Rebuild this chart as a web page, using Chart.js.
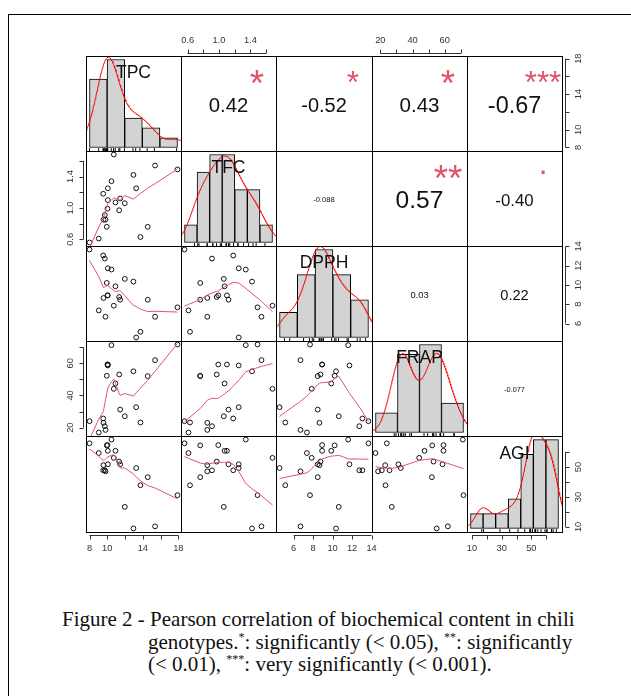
<!DOCTYPE html>
<html>
<head>
<meta charset="utf-8">
<script src="https://cdn.jsdelivr.net/npm/chart.js@4.4.1/dist/chart.umd.min.js"></script>
<style>
  html, body { margin: 0; padding: 0; background: #fff; }
  body { width: 631px; height: 696px; position: relative; overflow: hidden; }
  #frame { position: absolute; left: 8px; top: 14px; width: 700px; height: 700px; border-left: 1px solid #000; border-top: 1px solid #000; }
  #matrix canvas { position: absolute; }
  .cap { position: absolute; font-family: "Liberation Serif", "Times New Roman", serif; font-size: 21px; line-height: 22px; color: #111; white-space: nowrap; }
  .cap sup { font-size: 12px; line-height: 0; vertical-align: 8px; }
</style>
</head>
<body>
<div id="frame"></div>
<div id="matrix"></div>
<div class="cap" style="left:62px; top:608px">Figure 2 - Pearson correlation of biochemical content in chili</div>
<div class="cap" style="left:148px; top:631px">genotypes.<sup>*</sup>: significantly (&lt; 0.05), <sup>**</sup>: significantly</div>
<div class="cap" style="left:148px; top:653px">(&lt; 0.01), <sup>***</sup>: very significantly (&lt; 0.001).</div>
<script>
// 22 genotypes, values
const varNames = ['TPC', 'TFC', 'DPPH', 'FRAP', 'AGI'];
const tpc  = [8.00, 9.04, 9.54, 9.57, 9.72, 9.80, 9.94, 10.02, 10.06, 10.06, 10.47, 10.73, 10.92, 11.34, 11.45, 11.97, 12.94, 13.25, 13.73, 14.55, 15.38, 17.90];
const tfc  = [0.56, 0.61, 1.18, 0.85, 0.91, 0.85, 0.76, 0.99, 1.25, 1.10, 1.34, 1.68, 1.07, 0.97, 1.12, 1.06, 1.42, 1.25, 0.63, 0.76, 1.54, 1.49];
const dpph = [13.68, 7.36, 13.06, 8.65, 12.74, 6.70, 10.21, 8.92, 11.73, 8.92, 11.60, 7.85, 9.86, 8.75, 8.47, 10.63, 10.35, 4.55, 5.14, 8.47, 6.70, 7.68];
const frap = [24.0, 17.0, 25.7, 23.0, 20.9, 18.6, 52.2, 59.2, 58.6, 59.2, 71.2, 44.1, 47.4, 53.0, 31.2, 27.1, 55.0, 32.7, 23.2, 52.0, 61.9, 71.6];
const agi  = [65.8, 59.3, 47.8, 51.2, 47.8, 47.1, 64.4, 64.6, 51.8, 60.8, 68.3, 56.1, 60.8, 53.6, 51.8, 23.4, 9.0, 49.3, 37.8, 43.2, 10.4, 31.2];

// histogram breaks (diagonal panels)
const tpcBreaks  = [8, 10, 12, 14, 16, 18];
const tfcBreaks  = [0.4, 0.6, 0.8, 1.0, 1.2, 1.4, 1.6, 1.8];
const dpphBreaks = [4, 6, 8, 10, 12, 14];
const frapBreaks = [0, 20, 40, 60, 80];
const agiBreaks  = [0, 10, 20, 30, 40, 50, 60, 70];

// outer axis ticks and their labels ('' = tick without label)
const tpcTicks  = [8, 10, 12, 14, 16, 18];       const tpcTickLabels  = ['8', '10', '', '14', '', '18'];
const tfcTicks  = [0.6, 0.8, 1.0, 1.2, 1.4, 1.6]; const tfcTickLabels  = ['0.6', '', '1.0', '', '1.4', ''];
const dpphTicks = [6, 8, 10, 12, 14];            const dpphTickLabels = ['6', '8', '10', '12', '14'];
const frapTicks = [20, 30, 40, 50, 60, 70];      const frapTickLabels = ['20', '', '40', '', '60', ''];
const agiTicks  = [10, 20, 30, 40, 50, 60];      const agiTickLabels  = ['10', '', '30', '', '50', ''];

// upper panels, row by row: (1,2) (1,3) (1,4) (1,5) (2,3) (2,4) (2,5) (3,4) (3,5) (4,5)
const corrText  = ['0.42', '-0.52', '0.43', '-0.67', '-0.088', '0.57', '-0.40', '0.03', '0.22', '-0.077'];
const corrStars = ['*', '*', '*', '***', '', '**', '.', '', '', ''];

const vars = [tpc, tfc, dpph, frap, agi];
const breaks = [tpcBreaks, tfcBreaks, dpphBreaks, frapBreaks, agiBreaks];
const ticks = [tpcTicks, tfcTicks, dpphTicks, frapTicks, agiTicks];
const tickLabels = [tpcTickLabels, tfcTickLabels, dpphTickLabels, frapTickLabels, agiTickLabels];

const PAD = 40;
const colX = [86, 181, 276, 372, 467, 562];
const rowY = [56, 151, 246, 341, 436, 532];
const SANS = '"Liberation Sans", Arial, sans-serif';
const AXIS_COLOR = '#333';
const AXIS_GAP = 3, TICK_LEN = 4, LABEL_OFF = 16;

function extRange(lo, hi) {
  const d = (hi - lo) * 0.04;
  return [lo - d, hi + d];
}

function histCounts(v, b) {
  const c = new Array(b.length - 1).fill(0);
  v.forEach(x => {
    for (let k = 0; k < b.length - 1; k++) {
      if ((x > b[k] + 1e-9 || (k === 0 && x >= b[0] - 1e-9)) && x <= b[k + 1] + 1e-9) { c[k]++; break; }
    }
  });
  return c;
}

// gaussian kernel density, bw.nrd0 like R's density()
function kde(v) {
  const n = v.length, s = [...v].sort((a, b) => a - b);
  const mean = s.reduce((p, c) => p + c, 0) / n;
  const sd = Math.sqrt(s.reduce((p, c) => p + (c - mean) ** 2, 0) / (n - 1));
  const q = p => { const h = (n - 1) * p, lo = Math.floor(h); return s[lo] + (h - lo) * ((s[lo + 1] ?? s[lo]) - s[lo]); };
  const bw = 0.9 * Math.min(sd, (q(0.75) - q(0.25)) / 1.34) * Math.pow(n, -0.2);
  const from = s[0] - 3 * bw, to = s[n - 1] + 3 * bw, m = 240;
  const pts = [];
  for (let k = 0; k <= m; k++) {
    const x = from + (to - from) * k / m;
    let d = 0;
    s.forEach(xi => { const z = (x - xi) / bw; d += Math.exp(-0.5 * z * z); });
    pts.push({ x, y: d / (n * bw * Math.sqrt(2 * Math.PI)) });
  }
  return pts;
}

// port of R's clowess (lowess, f = 2/3, iter = 3)
function lowess(xIn, yIn, f, nsteps) {
  const ord = xIn.map((_, i) => i).sort((a, b) => xIn[a] - xIn[b]);
  const n = ord.length;
  const x = [0], y = [0];
  ord.forEach(i => { x.push(xIn[i]); y.push(yIn[i]); });
  const ys = new Array(n + 1).fill(0), rw = new Array(n + 1).fill(1);
  const w = new Array(n + 1).fill(0), res = new Array(n + 1).fill(0);
  const range = x[n] - x[1];
  const delta = 0.01 * range;
  const ns = Math.max(2, Math.min(n, Math.floor(f * n + 1e-7)));

  function lowest(xs, nleft, nright, userw) {
    const h = Math.max(xs - x[nleft], x[nright] - xs);
    const h9 = 0.999 * h, h1 = 0.001 * h;
    let a = 0, j = nleft;
    while (j <= n) {
      w[j] = 0;
      const r = Math.abs(x[j] - xs);
      if (r <= h9) {
        w[j] = r <= h1 ? 1 : Math.pow(1 - Math.pow(r / h, 3), 3);
        if (userw) w[j] *= rw[j];
        a += w[j];
      } else if (x[j] > xs) break;
      j++;
    }
    const nrt = j - 1;
    if (a <= 0) return null;
    for (j = nleft; j <= nrt; j++) w[j] /= a;
    if (h > 0) {
      a = 0;
      for (j = nleft; j <= nrt; j++) a += w[j] * x[j];
      let b = xs - a, c = 0;
      for (j = nleft; j <= nrt; j++) c += w[j] * (x[j] - a) * (x[j] - a);
      if (Math.sqrt(c) > 0.001 * range) {
        b /= c;
        for (j = nleft; j <= nrt; j++) w[j] *= (b * (x[j] - a) + 1);
      }
    }
    let out = 0;
    for (j = nleft; j <= nrt; j++) out += w[j] * y[j];
    return out;
  }

  for (let iter = 1; iter <= nsteps + 1; iter++) {
    let nleft = 1, nright = ns, last = 0, i = 1;
    for (;;) {
      if (nright < n) {
        const d1 = x[i] - x[nleft], d2 = x[nright + 1] - x[i];
        if (d1 > d2) { nleft++; nright++; continue; }
      }
      const v = lowest(x[i], nleft, nright, iter > 1);
      ys[i] = v === null ? y[i] : v;
      if (last < i - 1) {
        const denom = x[i] - x[last];
        for (let j = last + 1; j < i; j++) {
          const alpha = (x[j] - x[last]) / denom;
          ys[j] = alpha * ys[i] + (1 - alpha) * ys[last];
        }
      }
      last = i;
      const cut = x[last] + delta;
      for (i = last + 1; i <= n; i++) {
        if (x[i] > cut) break;
        if (x[i] === x[last]) { ys[i] = ys[last]; last = i; }
      }
      i = Math.max(last + 1, i - 1);
      if (last >= n) break;
    }
    for (let k = 1; k <= n; k++) res[k] = y[k] - ys[k];
    if (iter > nsteps) break;
    let sc = 0;
    for (let k = 1; k <= n; k++) sc += Math.abs(res[k]);
    sc /= n;
    const ar = res.slice(1).map(Math.abs).sort((a, b) => a - b);
    const m1 = Math.floor(n / 2);
    const cmad = n % 2 === 0 ? 3 * (ar[m1] + ar[n - m1 - 1]) : 6 * ar[m1];
    if (cmad < 1e-7 * sc) break;
    const c9 = 0.999 * cmad, c1 = 0.001 * cmad;
    for (let k = 1; k <= n; k++) {
      const r = Math.abs(res[k]);
      rw[k] = r <= c1 ? 1 : r <= c9 ? Math.pow(1 - Math.pow(r / cmad, 2), 2) : 0;
    }
  }
  return x.slice(1).map((xv, k) => ({ x: xv, y: ys[k + 1] }));
}

function fillCentered(ctx, txt, cx, cy) {
  const m = ctx.measureText(txt);
  ctx.textAlign = 'center';
  ctx.textBaseline = 'alphabetic';
  ctx.fillText(txt, cx, cy + (m.actualBoundingBoxAscent - m.actualBoundingBoxDescent) / 2);
}

function drawAxis(chart, ax) {
  const ctx = chart.ctx, a = chart.chartArea, sc = chart.scales[ax.scaleId];
  const pos = ticks[ax.v].map(t => sc.getPixelForValue(t));
  const labels = tickLabels[ax.v];
  ctx.strokeStyle = AXIS_COLOR;
  ctx.fillStyle = AXIS_COLOR;
  ctx.lineWidth = 1;
  ctx.font = '9.3px ' + SANS;
  ctx.textAlign = 'center';
  ctx.textBaseline = 'middle';
  ctx.beginPath();
  if (ax.side === 'bottom' || ax.side === 'top') {
    const s = ax.side === 'bottom' ? 1 : -1;
    const edge = ax.side === 'bottom' ? a.bottom : a.top;
    const yl = Math.round(edge + s * AXIS_GAP) + 0.5;
    ctx.moveTo(pos[0], yl);
    ctx.lineTo(pos[pos.length - 1], yl);
    pos.forEach(p => { const xp = Math.round(p) + 0.5; ctx.moveTo(xp, yl); ctx.lineTo(xp, yl + s * TICK_LEN); });
    ctx.stroke();
    labels.forEach((t, k) => { if (t) ctx.fillText(t, pos[k], edge + s * LABEL_OFF); });
  } else {
    const s = ax.side === 'right' ? 1 : -1;
    const edge = ax.side === 'right' ? a.right : a.left;
    const xl = Math.round(edge + s * AXIS_GAP) + 0.5;
    ctx.moveTo(xl, pos[0]);
    ctx.lineTo(xl, pos[pos.length - 1]);
    pos.forEach(p => { const yp = Math.round(p) + 0.5; ctx.moveTo(xl, yp); ctx.lineTo(xl + s * TICK_LEN, yp); });
    ctx.stroke();
    labels.forEach((t, k) => {
      if (!t) return;
      ctx.save();
      ctx.translate(edge + s * LABEL_OFF, pos[k]);
      ctx.rotate(-Math.PI / 2);
      ctx.fillText(t, 0, 0);
      ctx.restore();
    });
  }
}

function panelPlugin(spec) {
  return {
    id: 'rpanel',
    afterDatasetsDraw(chart) {
      const ctx = chart.ctx, a = chart.chartArea;
      const W = a.right - a.left, H = a.bottom - a.top;
      ctx.save();
      if (spec.kind === 'upper') {
        const r = Math.abs(parseFloat(spec.txt));
        ctx.font = '100px ' + SANS;
        const base = 100 * 0.8 * 0.94 * W / ctx.measureText(spec.txt).width;
        ctx.fillStyle = '#111';
        ctx.font = (base * (r + 0.3) / 1.3).toFixed(2) + 'px ' + SANS;
        fillCentered(ctx, spec.txt, a.left + 0.5 * W, a.top + 0.5 * H + 1);
        if (spec.stars) {
          ctx.fillStyle = '#DF536B';
          ctx.font = base.toFixed(2) + 'px ' + SANS;
          fillCentered(ctx, spec.stars, a.left + 0.8 * W, a.top + 0.2 * H + 1.5);
        }
      }
      if (spec.kind === 'diag') {
        ctx.fillStyle = '#111';
        ctx.font = '17.5px ' + SANS;
        fillCentered(ctx, spec.label, a.left + 0.5 * W, a.bottom - 0.8333 * H);
      }
      ctx.strokeStyle = '#000';
      ctx.lineWidth = 1;
      ctx.strokeRect(a.left + 0.5, a.top + 0.5, W, H);
      spec.axes.forEach(ax => drawAxis(chart, ax));
      ctx.restore();
    }
  };
}

const matrix = document.getElementById('matrix');
let upper = 0;
for (let i = 0; i < 5; i++) {
  for (let j = 0; j < 5; j++) {
    const left = colX[j], top = rowY[i];
    const w = colX[j + 1] - left, h = rowY[i + 1] - top;
    const canvas = document.createElement('canvas');
    canvas.width = w + 2 * PAD;
    canvas.height = h + 2 * PAD;
    canvas.style.left = (left - PAD) + 'px';
    canvas.style.top = (top - PAD) + 'px';
    matrix.appendChild(canvas);

    const xr = extRange(Math.min(...vars[j]), Math.max(...vars[j]));
    const yr = extRange(Math.min(...vars[i]), Math.max(...vars[i]));
    const diag = i === j;
    const scales = {};
    const datasets = [];
    const spec = { axes: [] };

    if (diag) {
      const b = breaks[i];
      const bw = b[1] - b[0];
      const counts = histCounts(vars[i], b);
      const dens = counts.map(c => c / (vars[i].length * bw));
      const maxD = Math.max(...dens);
      const hx = extRange(b[0], b[b.length - 1]);
      const hy = [-0.04 * maxD, 1.04 * maxD];
      scales.x = { type: 'linear', display: false, min: hx[0], max: hx[1], offset: false };
      scales.y = { type: 'linear', display: false, min: hy[0], max: hy[1] };
      scales.vx = { type: 'linear', axis: 'x', position: 'bottom', display: false, min: xr[0], max: xr[1] };
      scales.vy = { type: 'linear', axis: 'y', position: 'left', display: false, min: yr[0], max: yr[1] };
      datasets.push({
        type: 'bar',
        data: dens.map((d, k) => ({ x: (b[k] + b[k + 1]) / 2, y: d })),
        backgroundColor: '#D3D3D3', borderColor: '#000', borderWidth: 1, borderSkipped: false,
        barPercentage: 1, categoryPercentage: 1, grouped: false, order: 2
      });
      datasets.push({
        type: 'line', data: kde(vars[i]), borderColor: '#FF0000', borderWidth: 1,
        pointRadius: 0, tension: 0, fill: false, order: 1
      });
      const rugY = hy[0] + 0.015 * (hy[1] - hy[0]);
      datasets.push({
        type: 'scatter', data: vars[i].map(v => ({ x: v, y: rugY })),
        pointStyle: 'line', rotation: 90, radius: 1.45, borderColor: '#000', borderWidth: 1, order: 0
      });
      spec.kind = 'diag';
      spec.label = varNames[i];
    } else {
      scales.x = { type: 'linear', display: false, min: xr[0], max: xr[1] };
      scales.y = { type: 'linear', display: false, min: yr[0], max: yr[1] };
      if (i > j) {
        spec.kind = 'lower';
        datasets.push({
          type: 'scatter', data: vars[j].map((v, k) => ({ x: v, y: vars[i][k] })),
          pointStyle: 'circle', radius: 2.4, borderWidth: 1, borderColor: '#111',
          backgroundColor: 'rgba(0,0,0,0)', order: 1
        });
        datasets.push({
          type: 'line', data: lowess(vars[j], vars[i], 2 / 3, 3), borderColor: '#DF536B',
          borderWidth: 1, pointRadius: 0, tension: 0, fill: false, order: 0
        });
      } else {
        spec.kind = 'upper';
        spec.txt = corrText[upper];
        spec.stars = corrStars[upper];
        upper++;
      }
    }

    if (i === 4 && j % 2 === 0) spec.axes.push({ side: 'bottom', scaleId: diag ? 'vx' : 'x', v: j });
    if (i === 0 && j % 2 === 1) spec.axes.push({ side: 'top', scaleId: 'x', v: j });
    if (j === 4 && i % 2 === 0) spec.axes.push({ side: 'right', scaleId: diag ? 'vy' : 'y', v: i });
    if (j === 0 && i % 2 === 1) spec.axes.push({ side: 'left', scaleId: 'y', v: i });

    new Chart(canvas, {
      type: 'scatter',
      data: { datasets },
      options: {
        responsive: false,
        animation: false,
        devicePixelRatio: 1,
        events: [],
        layout: { padding: PAD },
        plugins: { legend: { display: false }, tooltip: { enabled: false } },
        scales
      },
      plugins: [panelPlugin(spec)]
    });
  }
}
</script>
</body>
</html>
